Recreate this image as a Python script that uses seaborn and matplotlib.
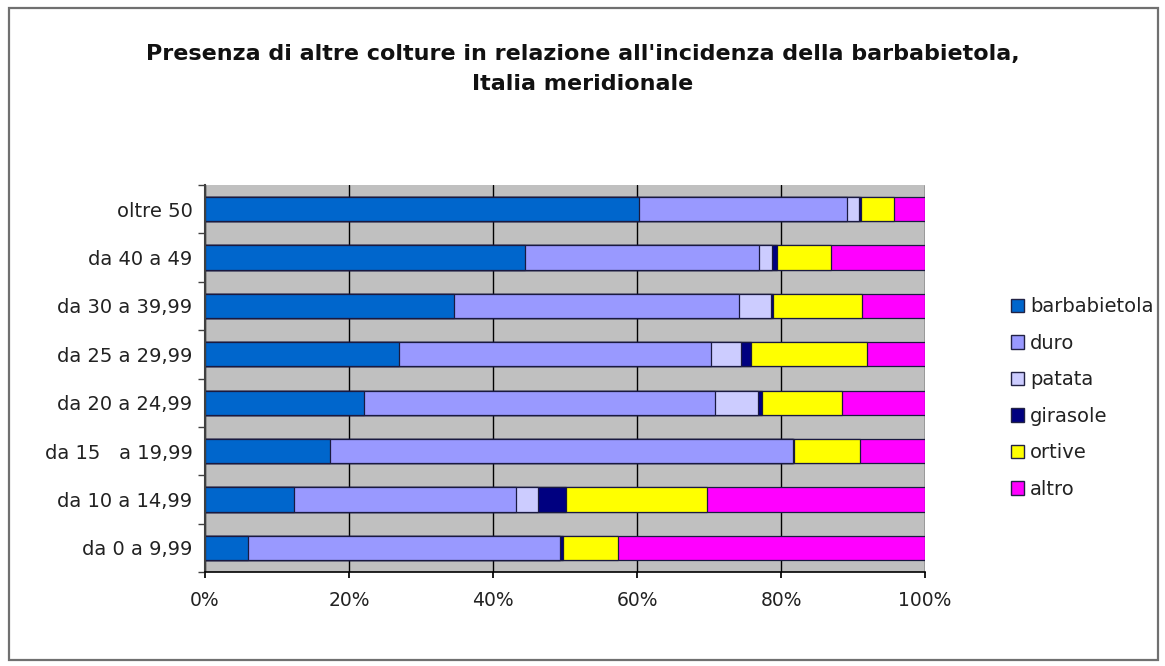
import numpy as np
import pandas as pd
import matplotlib
matplotlib.use("Agg")
import matplotlib.pyplot as plt
import seaborn as sns
from matplotlib.patches import Patch, Rectangle

categories = ["oltre 50", "da 40 a 49", "da 30 a 39,99", "da 25 a 29,99",
              "da 20 a 24,99", "da 15   a 19,99", "da 10 a 14,99", "da 0 a 9,99"]
series_names = ["barbabietola", "duro", "patata", "girasole", "ortive", "altro"]
barbabietola = [60.3, 44.4, 34.6, 27.0, 22.1, 17.3, 12.4, 6.0]
duro = [28.9, 32.6, 39.6, 43.3, 48.7, 64.3, 30.8, 43.3]
patata = [1.7, 1.8, 4.4, 4.1, 6.0, 0.0, 3.0, 0.0]
girasole = [0.2, 0.7, 0.3, 1.4, 0.6, 0.2, 3.9, 0.4]
ortive = [4.6, 7.5, 12.3, 16.1, 11.1, 9.2, 19.6, 7.6]
altro = [4.3, 13.0, 8.8, 8.1, 11.5, 9.0, 30.3, 42.7]
xticks = [0, 20, 40, 60, 80, 100]
xticklabels = ["0%", "20%", "40%", "60%", "80%", "100%"]
title = "Presenza di altre colture in relazione all'incidenza della barbabietola,\nItalia meridionale"

colors = ["#0066CC", "#9999FF", "#CCCCFF", "#000080", "#FFFF00", "#FF00FF"]

sns.set_theme(style="white")
plt.rcParams['font.family'] = ['DejaVu Sans']

data = np.array([barbabietola, duro, patata, girasole, ortive, altro], dtype=float)
pct = data / data.sum(axis=0) * 100.0
cum = np.cumsum(pct, axis=0)

fig = plt.figure(figsize=(11.65, 6.66), dpi=100)
fig.patch.set_facecolor("white")
W, H = 1165, 666
left, right, top, bottom = 205, 925, 185, 572
ax = fig.add_axes([left / W, 1 - bottom / H, (right - left) / W, (bottom - top) / H])
ax.set_facecolor("#C0C0C0")

for i in reversed(range(len(series_names))):
    df = pd.DataFrame({"cat": categories, "val": cum[i]})
    sns.barplot(data=df, x="val", y="cat", orient="h", color=colors[i],
                saturation=1, width=0.5, edgecolor="#1a1a40", linewidth=0.9, ax=ax)

ax.set_xlim(0, 100)
ax.set_ylim(7.5, -0.5)
ax.set_xticks(xticks)
ax.set_xticklabels(xticklabels, fontsize=13.5, color="#222222")
ax.set_yticks(np.arange(len(categories)))
ax.set_yticks(np.arange(-0.5, len(categories), 1.0), minor=True)
ax.tick_params(axis="y", which="major", labelsize=14, labelcolor="#222222", length=0, pad=9)
ax.tick_params(axis="y", which="minor", length=5, color="#404040", left=True)
ax.tick_params(axis="x", length=4, color="black", pad=10, bottom=True)
ax.set_xlabel("")
ax.set_ylabel("")
ax.xaxis.grid(True, color="black", linewidth=1.0)
ax.yaxis.grid(False)
ax.set_axisbelow(True)
for s in ["top", "right"]:
    ax.spines[s].set_visible(False)
ax.spines["left"].set_color("#404040")
ax.spines["bottom"].set_color("black")
ax.spines["left"].set_linewidth(1.5)
ax.spines["bottom"].set_linewidth(1.2)

fig.text(0.5, 1 - 69 / H, title, ha="center", va="center", fontsize=16,
         fontweight="bold", color="#111111", linespacing=1.65)

handles = [Patch(facecolor=c, edgecolor="#222244", linewidth=1.0) for c in colors]
leg = fig.legend(handles, series_names, loc="center left",
                 bbox_to_anchor=(1003 / W, 1 - 398 / H), frameon=False,
                 fontsize=14, handlelength=0.7, handleheight=0.7,
                 handletextpad=0.3, labelspacing=0.9, borderaxespad=0)
for t in leg.get_texts():
    t.set_color("#222222")

fig.patches.append(Rectangle((9 / W, 1 - 660 / H), (1158 - 9) / W, (660 - 8) / H,
                             transform=fig.transFigure, fill=False,
                             edgecolor="#707070", linewidth=1.6))

fig.savefig("out.png", dpi=100)
